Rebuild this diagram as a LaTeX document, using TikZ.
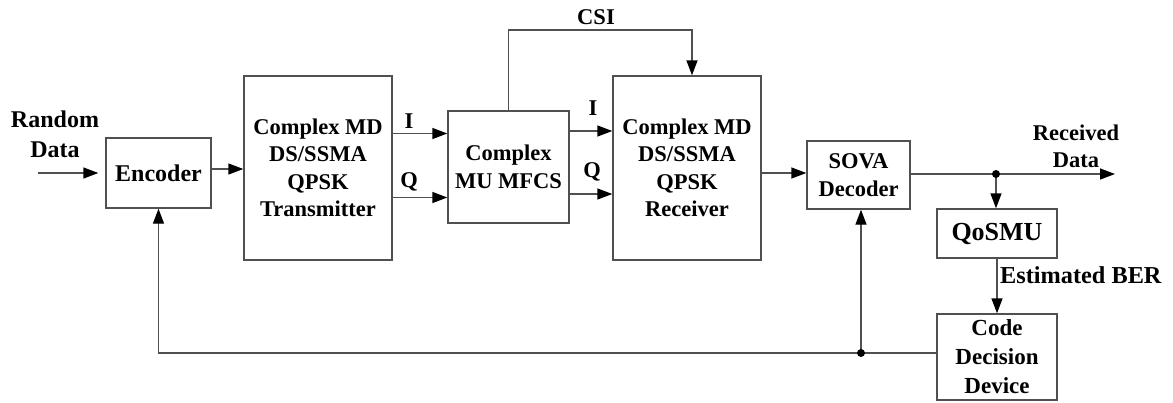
\documentclass[tikz,border=0pt]{standalone}
\usepackage{fontspec}
\setmainfont{Liberation Serif}
\usetikzlibrary{arrows.meta}
\definecolor{linec}{HTML}{505050}
\begin{document}
\begin{tikzpicture}[x=1pt,y=-1pt,
  blk/.style={draw=linec, line width=1.4pt, inner sep=0pt, align=center,
    font=\fontsize{22.5}{27.5}\selectfont\bfseries},
  con/.style={draw=linec, line width=1.4pt, -{Triangle[length=15pt,width=11pt,color=black]}},
  lab/.style={inner sep=0pt, align=center, font=\fontsize{22.5}{27.5}\selectfont\bfseries},
  dot/.style={circle, fill=black, inner sep=0pt, minimum size=8pt}]
\useasboundingbox (0,0) rectangle (1173,402);

\node[blk, minimum width=105pt, minimum height=70pt, font=\fontsize{24}{29}\selectfont\bfseries] (enc) at (158.5,173) {Encoder};
\node[blk, minimum width=148pt, minimum height=184pt] (tx) at (318,168) {Complex MD\\DS/SSMA\\QPSK\\Transmitter};
\node[blk, minimum width=121pt, minimum height=112pt] (mfcs) at (508.5,167) {Complex\\MU MFCS};
\node[blk, minimum width=148pt, minimum height=184pt] (rx) at (687,168) {Complex MD\\DS/SSMA\\QPSK\\Receiver};
\node[blk, minimum width=103pt, minimum height=68pt] (sova) at (858.5,175) {SOVA\\Decoder};
\node[blk, minimum width=120pt, minimum height=49pt, font=\fontsize{26}{30}\selectfont\bfseries] (qos) at (997,233.5) {QoSMU};
\node[blk, minimum width=120pt, minimum height=86pt, font=\fontsize{23}{29}\selectfont\bfseries] (cdd) at (997,357) {Code\\Decision\\Device};

\node[lab, font=\fontsize{24}{30}\selectfont\bfseries] (rd) at (55,134) {Random\\Data};
\node[lab] (recd) at (1076,146.5) {Received\\Data};
\node[lab] (csi) at (596,17) {CSI};
\node[lab] (i1) at (409,121) {I};
\node[lab] (q1) at (409,182) {Q};
\node[lab] (i2) at (593,108) {I};
\node[lab] (q2) at (592,172) {Q};
\node[lab, anchor=west, font=\fontsize{24.3}{28}\selectfont\bfseries] (ber) at (1000,275) {Estimated BER};

\coordinate (in) at (38,173);
\coordinate (out) at (1115,174);
\coordinate (j1) at (996,174);
\coordinate (j2) at (861,353);
\coordinate (fbL) at (enc.south |- 0,353);
\coordinate (csiL) at (mfcs.north |- 0,30);
\coordinate (csiR) at (692,30);

\draw[con, shorten >=7pt] (in) -- (enc.west);
\draw[con] (enc.east |- 0,169) -- (tx.west |- 0,169);
\draw[con] (tx.east |- 0,133.5) -- (mfcs.west |- 0,133.5);
\draw[con] (tx.east |- 0,197.5) -- (mfcs.west |- 0,197.5);
\draw[con] (mfcs.east |- 0,131) -- (rx.west |- 0,131);
\draw[con] (mfcs.east |- 0,194) -- (rx.west |- 0,194);
\draw[con] (mfcs.north) -- (csiL) -- (csiR) -- (csiR |- rx.north);
\draw[con] (rx.east |- 0,173) -- (sova.west |- 0,173);
\draw[con] (sova.east |- 0,174) -- (out);
\draw[con] (j1) -- (j1 |- qos.north);
\draw[con] (qos.south) -- (cdd.north);
\draw[con] (cdd.west |- 0,353) -- (fbL) -- (enc.south);
\draw[con] (j2) -- (j2 |- sova.south);
\node[dot] at (j1) {};
\node[dot] at (j2) {};
\end{tikzpicture}
\end{document}
